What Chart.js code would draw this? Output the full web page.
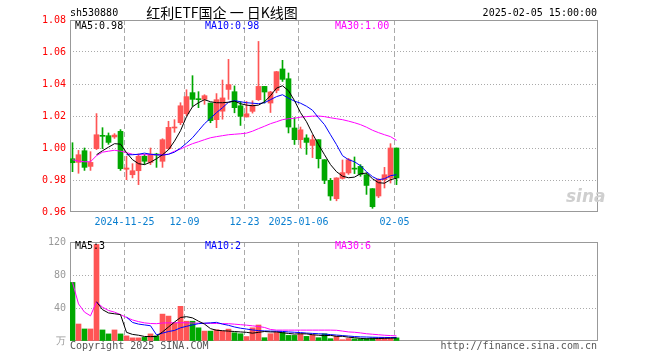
<!DOCTYPE html>
<html><head><meta charset="utf-8">
<script src="https://cdn.jsdelivr.net/npm/chart.js@4.4.1/dist/chart.umd.min.js"></script>
<style>
html,body{margin:0;padding:0;background:#fff;}
#wrap{position:relative;width:660px;height:360px;overflow:hidden;font-family:"DejaVu Sans Mono",monospace;font-size:10px;}
canvas{position:absolute;left:0;}
#c1{top:0;}
#c2{top:232px;}
.t{position:absolute;white-space:nowrap;line-height:12px;}
</style></head>
<body><div id="wrap">
<canvas id="c1" width="660" height="232"></canvas>
<canvas id="c2" width="660" height="128"></canvas>
<div class="t" style="left:70px;top:7px;color:#000;">sh530880</div>
<div class="t" style="left:222px;top:4px;line-height:16px;transform:translateX(-50%);font-family:'Noto Sans CJK SC',sans-serif;font-size:14px;color:#000;">红利ETF国企 一 日K线图</div>
<div class="t" style="right:63px;top:7px;color:#000;">2025-02-05 15:00:00</div>
<div class="t" style="left:75px;top:20px;color:#000;">MA5:0.98</div>
<div class="t" style="left:205px;top:20px;color:#0000ff;">MA10:0.98</div>
<div class="t" style="left:335px;top:20px;color:#ff00ff;">MA30:1.00</div>
<div class="t" style="left:75px;top:240px;color:#000;">MA5:3</div>
<div class="t" style="left:205px;top:240px;color:#0000ff;">MA10:2</div>
<div class="t" style="left:335px;top:240px;color:#ff00ff;">MA30:6</div>
<div class="t" style="left:70px;top:340px;color:#555;">Copyright 2025 SINA.COM</div>
<div class="t" style="right:63px;top:340px;color:#555;">http://finance.sina.com.cn</div>
<div class="t" style="left:566px;top:186px;font-family:'DejaVu Sans',sans-serif;font-weight:bold;font-style:italic;font-size:17px;line-height:20px;color:#cfcfcf;">sina</div>
</div>
<script>
const dates = ['2024-11-12','2024-11-13','2024-11-14','2024-11-15','2024-11-18','2024-11-19','2024-11-20','2024-11-21','2024-11-22','2024-11-25','2024-11-26','2024-11-27','2024-11-28','2024-11-29','2024-12-02','2024-12-03','2024-12-04','2024-12-05','2024-12-06','2024-12-09','2024-12-10','2024-12-11','2024-12-12','2024-12-13','2024-12-16','2024-12-17','2024-12-18','2024-12-19','2024-12-20','2024-12-23','2024-12-24','2024-12-25','2024-12-26','2024-12-27','2024-12-30','2024-12-31','2025-01-02','2025-01-03','2025-01-06','2025-01-07','2025-01-08','2025-01-09','2025-01-10','2025-01-13','2025-01-14','2025-01-15','2025-01-16','2025-01-17','2025-01-20','2025-01-21','2025-01-22','2025-01-23','2025-01-24','2025-01-27','2025-02-05'];
const openP = [0.9933,0.9910,0.9983,0.9885,0.9996,1.0077,1.0077,1.0069,1.0104,0.9867,0.9833,0.9858,0.9948,0.9910,0.9962,0.9917,0.9996,1.0125,1.0158,1.0214,1.0346,1.0306,1.0304,1.0281,1.0177,1.0230,1.0366,1.0352,1.0264,1.0194,1.0229,1.0302,1.0385,1.0281,1.0360,1.0494,1.0433,1.0125,1.0052,1.0063,1.0016,1.0052,0.9927,0.9798,0.9683,0.9810,0.9844,0.9873,0.9885,0.9833,0.9746,0.9700,0.9802,0.9813,1.0000];
const highP = [1.0033,0.9985,1.0000,0.9977,1.0215,1.0127,1.0094,1.0090,1.0115,0.9948,0.9902,0.9963,0.9960,1.0000,0.9967,1.0058,1.0167,1.0177,1.0283,1.0364,1.0452,1.0352,1.0333,1.0281,1.0340,1.0425,1.0554,1.0388,1.0290,1.0291,1.0295,1.0666,1.0385,1.0354,1.0479,1.0548,1.0469,1.0190,1.0131,1.0083,1.0080,1.0052,0.9927,0.9810,0.9814,0.9925,0.9935,0.9944,0.9896,0.9844,0.9746,0.9808,0.9879,1.0027,1.0000];
const lowP = [0.9852,0.9842,0.9860,0.9860,0.9990,0.9996,1.0023,1.0060,0.9860,0.9802,0.9813,0.9771,0.9898,0.9896,0.9879,0.9879,0.9990,1.0098,1.0146,1.0202,1.0260,1.0252,1.0273,1.0158,1.0127,1.0180,1.0304,1.0220,1.0141,1.0194,1.0218,1.0297,1.0281,1.0222,1.0345,1.0416,1.0094,1.0022,1.0000,0.9960,0.9940,0.9875,0.9777,0.9673,0.9670,0.9806,0.9835,0.9840,0.9823,0.9710,0.9623,0.9690,0.9750,0.9781,0.9771];
const closeP = [0.9908,0.9958,0.9879,0.9910,1.0083,1.0073,1.0035,1.0081,0.9871,0.9875,0.9858,0.9948,0.9917,0.9962,0.9956,1.0052,1.0129,1.0131,1.0264,1.0321,1.0304,1.0302,1.0327,1.0171,1.0302,1.0313,1.0396,1.0252,1.0198,1.0214,1.0268,1.0385,1.0350,1.0350,1.0477,1.0429,1.0131,1.0052,1.0114,1.0035,1.0052,0.9933,0.9798,0.9700,0.9813,0.9846,0.9927,0.9868,0.9835,0.9766,0.9633,0.9804,0.9833,1.0000,0.9813];
const ma5 = [null,null,null,null,0.9958,0.9983,1.0005,1.0027,1.0024,0.9971,0.9927,0.9902,0.9896,0.9911,0.9933,0.9958,0.9989,1.0043,1.0108,1.0196,1.0258,1.0283,1.0302,1.0289,1.0283,1.0283,1.0286,1.0293,1.0277,1.0268,1.0264,1.0268,1.0289,1.0327,1.0374,1.0389,1.0358,1.0296,1.0221,1.0164,1.0089,1.0021,0.9958,0.9896,0.9852,0.9824,0.9814,0.9818,0.9839,0.9843,0.9808,0.9783,0.9780,0.9802,0.9811];
const ma10 = [null,null,null,null,null,null,null,null,null,0.9958,0.9958,0.9961,0.9968,0.9961,0.9958,0.9955,0.9961,0.9974,0.9999,1.0030,1.0064,1.0108,1.0152,1.0186,1.0221,1.0252,1.0286,1.0296,1.0289,1.0283,1.0280,1.0277,1.0283,1.0302,1.0321,1.0333,1.0311,1.0293,1.0280,1.0261,1.0236,1.0189,1.0146,1.0083,1.0021,0.9952,0.9927,0.9914,0.9889,0.9852,0.9821,0.9802,0.9808,0.9827,0.9833];
const ma30 = [0.9927,0.9918,0.9914,0.9914,0.9952,0.9974,0.9980,0.9986,0.9980,0.9971,0.9961,0.9958,0.9958,0.9958,0.9958,0.9958,0.9961,0.9980,0.9993,1.0011,1.0027,1.0039,1.0052,1.0064,1.0071,1.0077,1.0083,1.0086,1.0089,1.0093,1.0105,1.0121,1.0136,1.0152,1.0164,1.0177,1.0183,1.0186,1.0193,1.0196,1.0199,1.0200,1.0196,1.0189,1.0183,1.0177,1.0168,1.0158,1.0146,1.0130,1.0111,1.0096,1.0083,1.0071,1.0048];
const volume = [71,20.6,14.6,14.6,117,13.4,8.6,13.4,8.6,6.2,3.8,3.8,4.4,8.6,6.2,32.6,30.2,22,42,24,24,16,12,12,13.6,12,14.4,10,8.8,5.4,16,19.4,4,8.8,10.4,10.4,6.8,6.8,8.6,5.6,7.4,4,8.8,2.8,5.6,1.6,3,2.6,2.6,3,3.8,3.8,3.8,3.8,3.8];
const volMa5 = [null,null,null,null,47.6,38,34,33,32,10.5,8,7,5.5,5.3,5.5,11,17,23,28.5,29.5,28,24,20.5,15,13,12.5,12,11.5,11,10.5,9.5,10.5,11.5,11,11,10,9.2,8.4,8.8,8.6,7.6,7,6.5,6.8,5.7,5.7,4.6,4,3.2,2.6,2.8,3,3.2,3.4,3.6];
const volMa10 = [null,null,null,null,null,null,null,null,null,29,22.5,20.5,19.5,18.5,7.5,9.5,11.5,12.8,16,17.8,19.5,21,21.6,22,22.6,20.5,19,17,15.5,14.5,13.4,12.6,12.2,12,11.8,11.6,11,10.6,10.2,9.6,9.2,8.8,8.4,7.8,7.2,6.6,6,5.4,5,4.8,4.6,4.4,4.3,4.2,4.2];
const volMa30 = [71,45,35,30.5,47.5,41,37,35,32,28.5,25.5,23.5,22,21.2,21,21.8,22,22,22.2,22,21.8,21.6,21.4,21.4,21.2,21,21,20.4,19.8,19.2,18.4,17.6,16.4,14,13.2,13.2,13.2,13.2,13.2,13.2,13.2,13.2,13.2,13.2,13,12,11,10.6,9.8,8.8,8.2,7.6,7,6.6,6.2];
const tickDates = ['2024-11-25','2024-12-09','2024-12-23','2025-01-06','2025-02-05'];
const tickLabels = ['2024-11-25','12-09','12-23','2025-01-06','02-05'];
const priceTicks = [0.96,0.98,1.00,1.02,1.04,1.06,1.08];
const volTicks = [0,40,80,120];
const volTickLabels = ['万','40','80','120'];

const RED = '#ff5555', GREEN = '#00a800';
const colors = closeP.map((c,i) => c >= openP[i] ? RED : GREEN);
const xy = arr => arr.map((v,i) => ({x:i, y:v}));
const FONT = {family:'DejaVu Sans Mono', size:10};
const X_MIN = -0.4167, X_MAX = 87.4167;

const frame = {id:'frame', beforeDatasetsDraw(chart){
  const a = chart.chartArea, ctx = chart.ctx;
  ctx.save(); ctx.strokeStyle = '#999'; ctx.lineWidth = 1; ctx.setLineDash([]);
  ctx.strokeRect(a.left + 0.5, a.top + 0.5, a.right - a.left, a.bottom - a.top - 1);
  ctx.restore();
}};

function xScale(showLabels){
  return {
    type:'linear', min:X_MIN, max:X_MAX, offset:false, bounds:'data',
    afterBuildTicks: s => { s.ticks = tickDates.map(d => ({value: dates.indexOf(d) - 1/3})); },
    ticks:{display:showLabels, autoSkip:false, maxRotation:0, color:'#0a7fd0', font:FONT, padding:4,
      callback:(v,i) => tickLabels[i]},
    grid:{color:'#aaa', lineWidth:1, drawTicks:false, offset:false},
    border:{display:false, dash:[5,3]},
    afterFit: s => { s.height = showLabels ? 20 : 19; }
  };
}
function lineDs(data, color, order){
  return {type:'line', data:xy(data), borderColor:color, borderWidth:1, pointRadius:0, tension:0, spanGaps:false, order:order};
}

new Chart(document.getElementById('c1'), {
  type:'bar',
  data:{datasets:[
    lineDs(ma5, '#000000', 0),
    lineDs(ma10, '#0000ff', 1),
    lineDs(ma30, '#ff00ff', 2),
    {label:'body', data: openP.map((o,i) => ({x:i, y:[o, closeP[i]]})), backgroundColor:colors, borderWidth:0,
      barThickness:5, maxBarThickness:5, minBarLength:1, grouped:false, order:3},
    {label:'wick', data: lowP.map((l,i) => ({x:i, y:[l, highP[i]]})), backgroundColor:colors, borderWidth:0,
      barThickness:1, maxBarThickness:1, grouped:false, order:4}
  ]},
  options:{
    responsive:false, animation:false, events:[],
    layout:{padding:{left:0, right:63, top:20, bottom:0}},
    plugins:{legend:{display:false}, tooltip:{enabled:false}},
    scales:{
      x: xScale(true),
      y:{min:priceTicks[0], max:priceTicks[priceTicks.length-1],
        afterBuildTicks: s => { s.ticks = priceTicks.map(v => ({value:v})); },
        ticks:{color:'#ff0000', font:FONT, padding:4, callback: v => v.toFixed(2)},
        grid:{drawTicks:false, lineWidth:1,
          color: c => (c.tick && (c.tick.value === priceTicks[0] || c.tick.value === priceTicks[priceTicks.length-1])) ? 'rgba(0,0,0,0)' : '#aaa'},
        border:{display:false, dash:[1,2]},
        afterFit: s => { s.width = 70; }
      }
    }
  },
  plugins:[frame]
});

new Chart(document.getElementById('c2'), {
  type:'bar',
  data:{datasets:[
    lineDs(volMa5, '#000000', 0),
    lineDs(volMa10, '#0000ff', 1),
    lineDs(volMa30, '#ff00ff', 2),
    {label:'vol', data: xy(volume), backgroundColor:colors, borderWidth:0,
      barThickness:5, maxBarThickness:5, grouped:false, order:3}
  ]},
  options:{
    responsive:false, animation:false, events:[],
    layout:{padding:{left:0, right:63, top:8, bottom:0}},
    plugins:{legend:{display:false}, tooltip:{enabled:false}},
    scales:{
      x: xScale(false),
      y:{min:volTicks[0], max:volTicks[volTicks.length-1],
        afterBuildTicks: s => { s.ticks = volTicks.map(v => ({value:v})); },
        ticks:{color:'#999', font:FONT, padding:4, callback: (v,i) => volTickLabels[i]},
        grid:{drawTicks:false, lineWidth:1,
          color: c => (c.tick && (c.tick.value === volTicks[0] || c.tick.value === volTicks[volTicks.length-1])) ? 'rgba(0,0,0,0)' : '#aaa'},
        border:{display:false, dash:[1,2]},
        afterFit: s => { s.width = 70; }
      }
    }
  },
  plugins:[frame]
});
</script>
</body></html>
